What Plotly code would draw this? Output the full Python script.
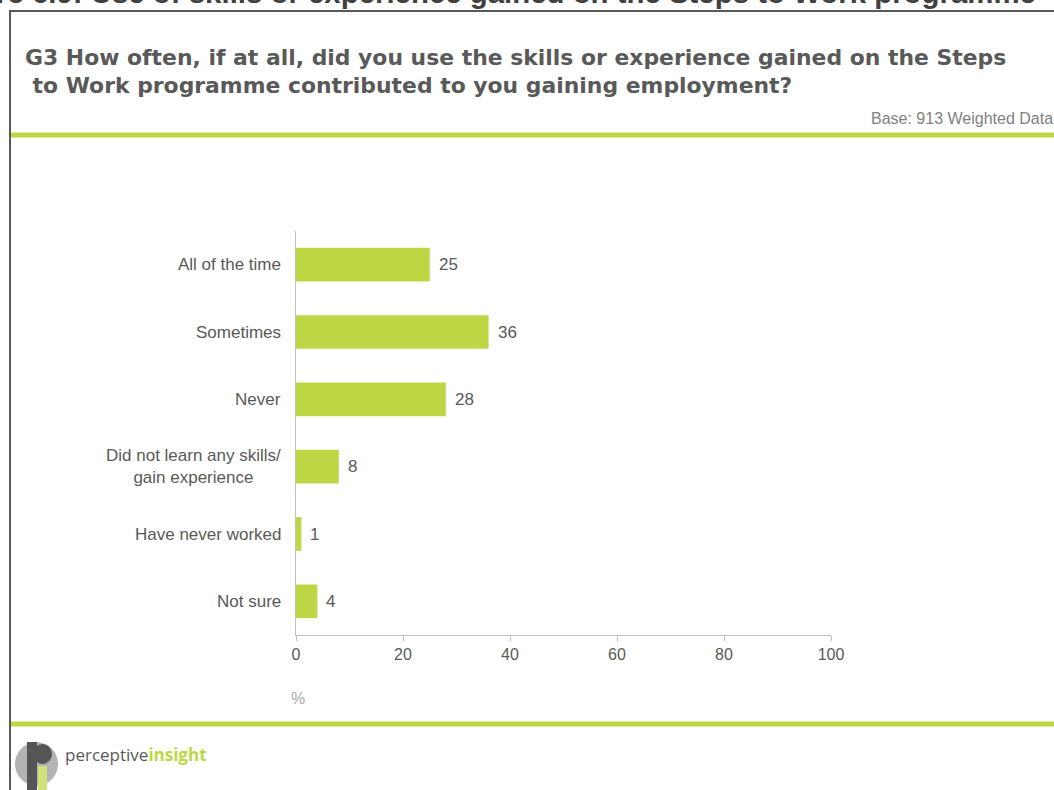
import plotly.graph_objects as go

categories = ["All of the time", "Sometimes", "Never",
              "Did not learn any skills/<br>gain experience",
              "Have never worked", "Not sure"]
values = [25, 36, 28, 8, 1, 4]
x_ticks = [0, 20, 40, 60, 80, 100]

title_text = "<b>Figure 6.9: Use of skills or experience gained on the Steps to Work programme</b>"
question_text = ("<b>G3 How often, if at all, did you use the skills or experience gained on the Steps"
                 "<br> to Work programme contributed to you gaining employment?</b>")
base_text = "Base: 913 Weighted Data"

GREEN = "#bdd744"
GREY_TXT = "#595959"
AXIS = "#bfbfbf"

W, H = 1054, 790
L, R, T, B = 296, 223, 231, 155
PW, PH = W - L - R, H - T - B


def px(x):
    return (x - L) / PW


def py(y):
    return (H - B - y) / PH


fig = go.Figure(go.Bar(
    x=values, y=categories, orientation="h",
    marker=dict(color=GREEN, line=dict(width=0)),
    width=0.5, hoverinfo="skip",
))

annotations = []
# category labels, centred block right-aligned at the axis
for c in categories:
    annotations.append(dict(
        x=0, y=c, xref="x", yref="y", text=c, showarrow=False,
        xanchor="right", xshift=-13, align="center",
        font=dict(family="Liberation Sans, Arial", size=17, color=GREY_TXT),
    ))
# value labels
for c, v in zip(categories, values):
    annotations.append(dict(
        x=v, y=c, xref="x", yref="y", text=str(v), showarrow=False,
        xanchor="left", xshift=7,
        font=dict(family="Liberation Sans, Arial", size=17, color=GREY_TXT),
    ))

annotations += [
    dict(x=px(1038), y=py(11), xref="paper", yref="paper", text=title_text,
         showarrow=False, xanchor="right", yanchor="bottom",
         font=dict(family="Liberation Sans, Arial", size=29.4, color="#404040"),
         ),
    dict(x=px(23), y=py(71), xref="paper", yref="paper", text=question_text,
         showarrow=False, xanchor="left", yanchor="middle", align="left",
         font=dict(family="DejaVu Sans", size=21.9, color=GREY_TXT)),
    dict(x=px(1055), y=py(119), xref="paper", yref="paper", text=base_text,
         showarrow=False, xanchor="right", yanchor="middle",
         font=dict(family="Liberation Sans", size=16, color="#7f7f7f")),
    dict(x=px(289), y=py(698), xref="paper", yref="paper", text="%",
         showarrow=False, xanchor="left", yanchor="middle",
         font=dict(family="Liberation Sans, Arial", size=16, color="#aaaaaa")),
    dict(x=px(63), y=py(754), xref="paper", yref="paper",
         text="perceptive<b><span style='color:%s'>insight</span></b>" % GREEN,
         showarrow=False, xanchor="left", yanchor="middle",
         font=dict(family="Open Sans, Liberation Sans", size=17, color=GREY_TXT)),
]

shapes = [
    # outer frame
    dict(type="rect", xref="paper", yref="paper",
         x0=px(10), x1=px(1070), y0=py(11), y1=py(810),
         line=dict(color="#595959", width=2), fillcolor="rgba(0,0,0,0)", layer="below"),
    # green rules
    dict(type="line", xref="paper", yref="paper", x0=px(11), x1=px(1060),
         y0=py(135), y1=py(135), line=dict(color=GREEN, width=5)),
    dict(type="line", xref="paper", yref="paper", x0=px(11), x1=px(1060),
         y0=py(724), y1=py(724), line=dict(color=GREEN, width=5)),
    # logo mark
    dict(type="circle", xref="paper", yref="paper", x0=px(15), x1=px(58),
         y0=py(742), y1=py(786), fillcolor="#b3b3b3", line=dict(width=0)),
    dict(type="rect", xref="paper", yref="paper", x0=px(27), x1=px(37),
         y0=py(742), y1=py(790), fillcolor="#555555", line=dict(width=0)),
    dict(type="circle", xref="paper", yref="paper", x0=px(33), x1=px(52),
         y0=py(744), y1=py(764), fillcolor="#555555", line=dict(width=0)),
    dict(type="rect", xref="paper", yref="paper", x0=px(38), x1=px(47),
         y0=py(766), y1=py(790), fillcolor="#cfe27a", line=dict(width=0)),
]

fig.update_layout(
    width=W, height=H,
    margin=dict(l=L, r=R, t=T, b=B, pad=0),
    paper_bgcolor="white", plot_bgcolor="white",
    showlegend=False,
    bargap=0.5,
    annotations=annotations,
    shapes=shapes,
    xaxis=dict(
        range=[0, 100], tickvals=x_ticks, ticktext=[str(t) for t in x_ticks],
        showgrid=False, zeroline=False,
        showline=True, linecolor=AXIS, linewidth=1,
        ticks="outside", ticklen=5, tickcolor=AXIS,
        tickfont=dict(family="Liberation Sans, Arial", size=16, color=GREY_TXT),
        fixedrange=True,
    ),
    yaxis=dict(
        categoryorder="array", categoryarray=categories[::-1],
        showticklabels=False, showgrid=False, zeroline=False,
        showline=True, linecolor=AXIS, linewidth=1, ticks="",
        fixedrange=True,
    ),
)

fig.write_html("out.html", config={"displayModeBar": False})
